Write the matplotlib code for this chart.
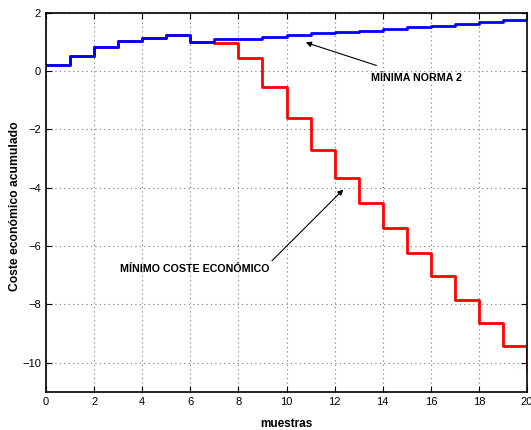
import numpy as np
import matplotlib
matplotlib.use("Agg")
import matplotlib.pyplot as plt

plt.rcParams["font.family"] = ["Liberation Sans", "DejaVu Sans"]

# muestras 0..20 (último valor sólo cierra el escalón)
muestras = np.arange(0, 21)
norma2 = [0.20, 0.53, 0.84, 1.04, 1.12, 1.22, 1.00, 1.09, 1.11, 1.16,
          1.23, 1.29, 1.34, 1.39, 1.45, 1.52, 1.56, 1.62, 1.68, 1.75, 1.78]
coste = [0.20, 0.53, 0.84, 1.04, 1.12, 1.22, 1.00, 0.97, 0.45, -0.53,
         -1.62, -2.72, -3.66, -4.51, -5.39, -6.22, -7.04, -7.84, -8.65, -9.43, -10.20]

fig = plt.figure(figsize=(5.31, 4.30), dpi=100)
ax = fig.add_axes([0.0866, 0.0884, 0.906, 0.882])

ax.step(muestras, coste, where="post", color="red", lw=2)
ax.step(muestras, norma2, where="post", color="blue", lw=2)

ax.set_xlim(0, 20)
ax.set_ylim(-11, 2)
ax.set_xticks(range(0, 21, 2))
ax.set_yticks(range(-10, 3, 2))
ax.set_yticklabels(["\u221210", "\u22128", "\u22126", "\u22124", "\u22122", "0", "2"])
ax.grid(True, color="#777777", ls=(0, (1, 3)), lw=0.8)
ax.tick_params(direction="in", length=4, labelsize=8, top=True, right=True,
               labeltop=False, labelright=False)
for s in ax.spines.values():
    s.set_linewidth(1.2)

ax.set_xlabel("muestras", fontsize=8.5, fontweight="bold", labelpad=8)
ax.set_ylabel("Coste económico acumulado", fontsize=8.7, fontweight="bold", va="center")
ax.yaxis.set_label_coords(-0.064, 0.49)

ax.annotate("MÍNIMA NORMA 2", xy=(10.8, 0.98), xytext=(13.5, -0.25),
            fontsize=7.7, fontweight="bold", va="center", ha="left",
            arrowprops=dict(arrowstyle="-|>", color="black", lw=0.8,
                            mutation_scale=8, shrinkA=12, shrinkB=0))
ax.annotate("MÍNIMO COSTE ECONÓMICO", xy=(12.36, -4.06), xytext=(6.17, -6.77),
            fontsize=7.7, fontweight="bold", va="center", ha="center",
            arrowprops=dict(arrowstyle="-|>", color="black", lw=0.8,
                            mutation_scale=8, shrinkA=0, shrinkB=0,
                            relpos=(1.0, 1.0)))

fig.savefig("out.png", dpi=100)
